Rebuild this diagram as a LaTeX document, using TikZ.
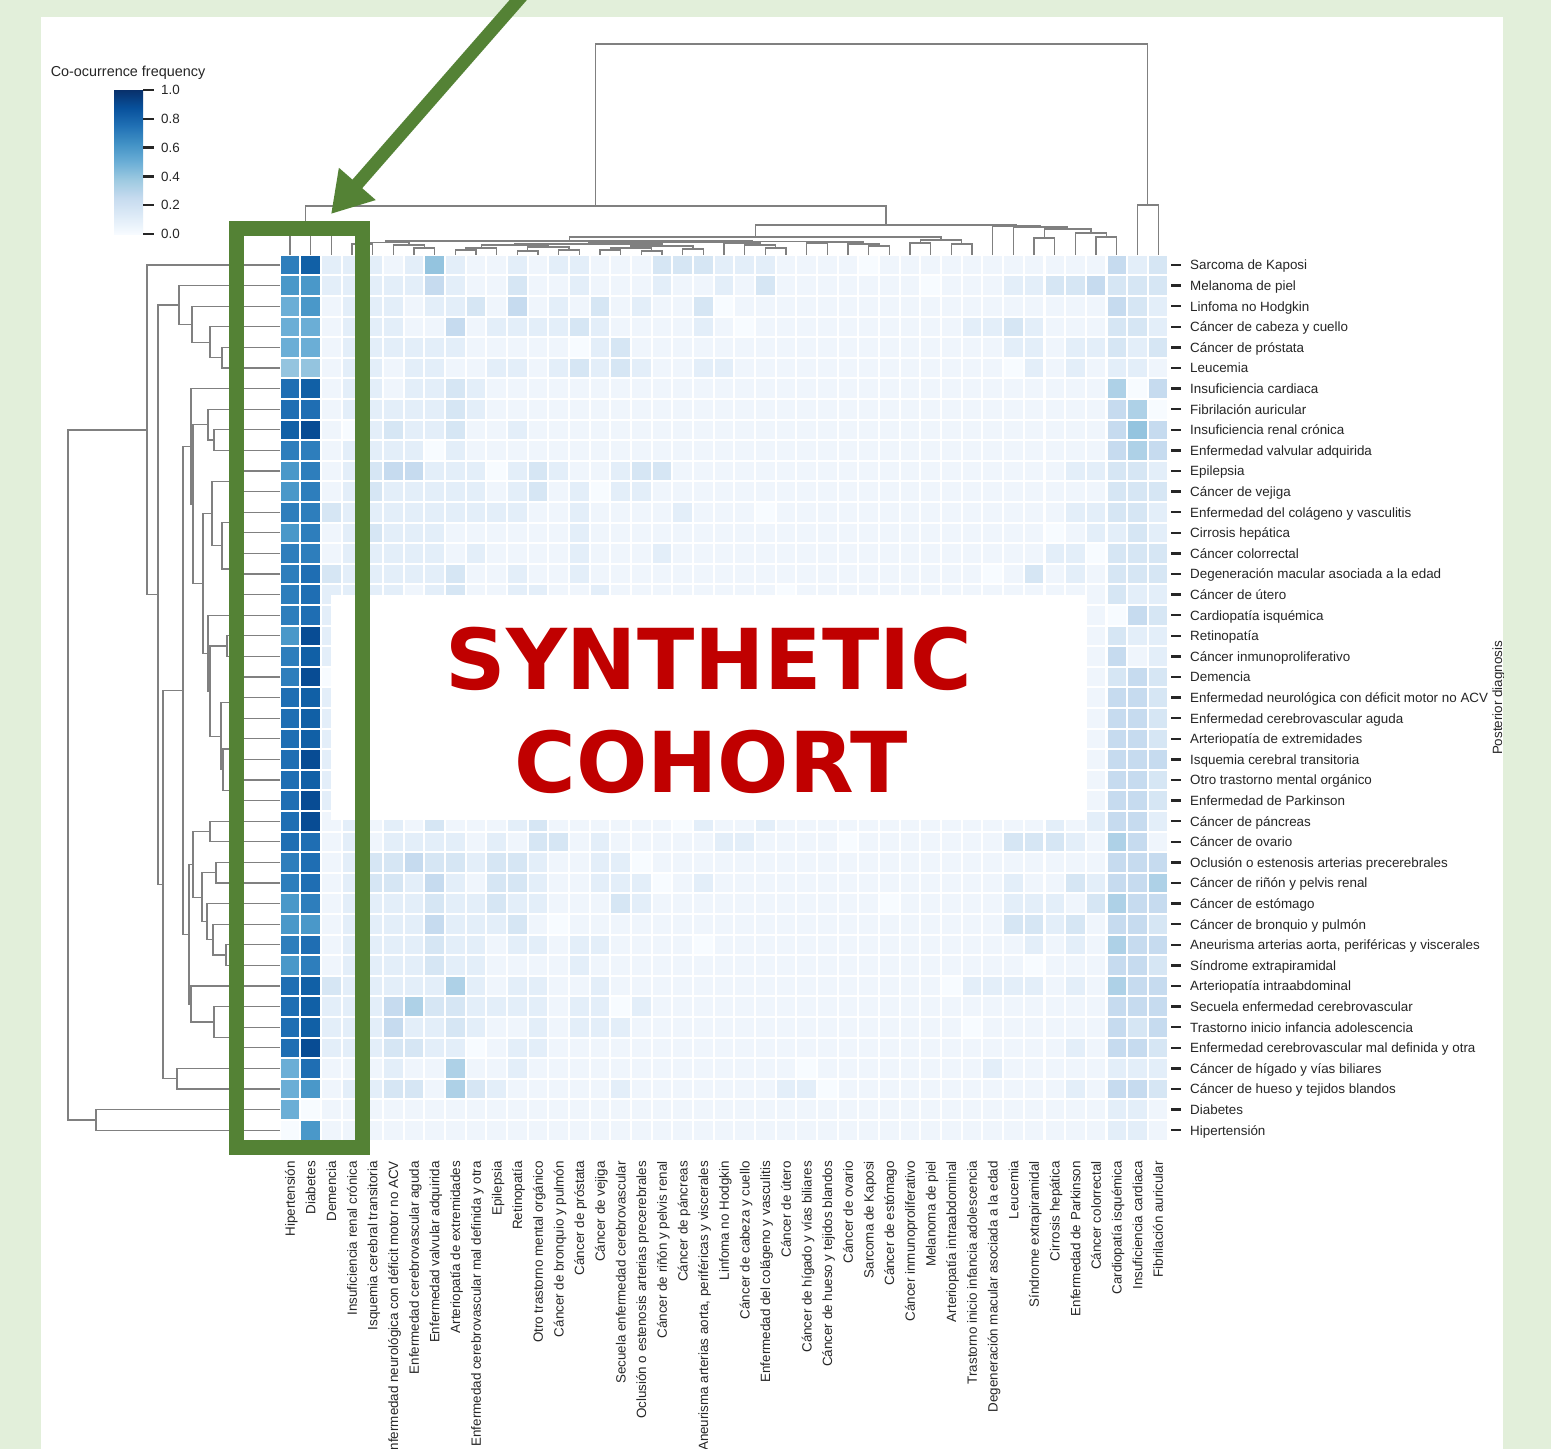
\documentclass[tikz,border=0pt]{standalone}
\usepackage{fontspec}
\setmainfont{Liberation Sans}
\newfontfamily\stampfont{DejaVu Sans}
\usetikzlibrary{arrows.meta}

\definecolor{panelgreen}{HTML}{E2EFDA}
\definecolor{markgreen}{HTML}{548235}
\definecolor{stampred}{HTML}{C00000}
\definecolor{labgray}{HTML}{262626}
\definecolor{dendgray}{HTML}{808080}
\definecolor{hm0}{HTML}{F7FBFF}
\definecolor{hm1}{HTML}{EFF5FC}
\definecolor{hm2}{HTML}{E3EEF9}
\definecolor{hm3}{HTML}{D6E6F4}
\definecolor{hm4}{HTML}{C6DBEF}
\definecolor{hm5}{HTML}{AED1E7}
\definecolor{hm6}{HTML}{94C4DF}
\definecolor{hm7}{HTML}{6BAED6}
\definecolor{hm8}{HTML}{4A98C9}
\definecolor{hm9}{HTML}{2E7EBC}
\definecolor{hmA}{HTML}{1F6EB3}
\definecolor{hmB}{HTML}{1160A6}
\definecolor{hmC}{HTML}{084C94}
\definecolor{bl0}{HTML}{F7FBFF}
\definecolor{bl1}{HTML}{DEEBF7}
\definecolor{bl2}{HTML}{C6DBEF}
\definecolor{bl3}{HTML}{9ECAE1}
\definecolor{bl4}{HTML}{6BAED6}
\definecolor{bl5}{HTML}{4292C6}
\definecolor{bl6}{HTML}{2171B5}
\definecolor{bl7}{HTML}{08519C}
\definecolor{bl8}{HTML}{08306B}
\pgfdeclareverticalshading{bluesbar}{100bp}{color(0bp)=(bl0); color(25bp)=(bl0); color(31.25bp)=(bl1); color(37.5bp)=(bl2); color(43.75bp)=(bl3); color(50bp)=(bl4); color(56.25bp)=(bl5); color(62.5bp)=(bl6); color(68.75bp)=(bl7); color(75bp)=(bl8); color(100bp)=(bl8)}

\newcommand\topjoin[4]{%
  \edef\dgax{\csname tx#2\endcsname}\edef\dgay{\csname th#2\endcsname}%
  \edef\dgbx{\csname tx#3\endcsname}\edef\dgby{\csname th#3\endcsname}%
  \draw[dendro] (\dgax,\dgay) |- (\dgbx,#4) -- (\dgbx,\dgby);%
  \pgfmathsetmacro\dgmx{(\dgax+\dgbx)/2}%
  \expandafter\xdef\csname tx#1\endcsname{\dgmx}%
  \expandafter\xdef\csname th#1\endcsname{#4}}
\newcommand\leftjoin[4]{%
  \edef\dgax{\csname lh#2\endcsname}\edef\dgay{\csname ly#2\endcsname}%
  \edef\dgbx{\csname lh#3\endcsname}\edef\dgby{\csname ly#3\endcsname}%
  \draw[dendro] (\dgax,\dgay) -| (#4,\dgby) -- (\dgbx,\dgby);%
  \pgfmathsetmacro\dgmx{(\dgay+\dgby)/2}%
  \expandafter\xdef\csname ly#1\endcsname{\dgmx}%
  \expandafter\xdef\csname lh#1\endcsname{#4}}

\begin{document}
\begin{tikzpicture}[x=1pt,y=-1pt,
    dendro/.style={draw=dendgray,line width=1.3pt},
    lab/.style={font=\fontsize{13.4}{15}\selectfont,text=labgray,inner sep=0pt},
    rtick/.style={draw=labgray,line width=2.4pt},
    stamp/.style={font=\stampfont\bfseries\fontsize{84}{84}\selectfont,text=stampred,inner sep=0pt}]
\useasboundingbox (0,0) rectangle (1551,1449);
\fill[panelgreen] (0,0) rectangle (1551,1449);
\fill[white] (41,17) rectangle (1503,1449);

\foreach \rowvals [count=\j from 0] in {
  {9,B,2,2,2,1,2,6,2,1,1,2,1,2,2,1,1,1,3,3,3,2,2,2,1,1,1,1,0,1,1,1,1,1,1,1,1,1,1,1,4,2,3},
  {8,8,2,2,2,2,2,4,2,1,1,3,1,1,2,1,1,1,2,1,1,2,1,3,1,1,1,1,1,1,1,0,1,1,1,2,2,3,3,4,3,3,3},
  {7,8,1,2,2,2,1,2,2,3,1,4,1,2,1,3,1,2,1,1,3,0,1,1,1,1,1,1,1,1,1,1,1,1,1,1,1,1,1,1,4,3,2},
  {7,7,1,2,2,2,1,1,4,1,2,2,2,2,3,2,1,1,1,1,2,1,0,1,1,1,1,1,1,1,1,1,1,2,2,3,2,1,1,1,3,3,2},
  {7,7,1,2,2,2,2,2,2,1,1,1,1,1,0,2,3,1,1,1,1,1,1,1,1,1,1,1,1,1,1,1,1,1,1,2,2,1,2,2,3,2,3},
  {6,6,1,2,2,1,2,2,1,1,2,2,1,2,3,2,3,2,1,1,2,2,1,1,1,1,1,1,1,1,1,1,1,1,1,0,2,1,2,1,2,2,1},
  {A,B,1,2,2,1,2,2,3,2,1,1,1,1,1,1,1,1,1,1,1,1,1,1,1,1,1,1,1,1,1,1,1,1,1,1,1,1,1,1,5,0,4},
  {A,A,1,2,2,2,2,2,3,2,1,1,1,1,1,1,1,1,1,1,1,1,1,1,1,1,1,1,1,1,1,1,1,1,1,1,1,1,1,1,4,5,0},
  {B,C,1,0,2,3,2,2,3,1,1,2,1,1,1,1,1,1,1,1,1,1,1,1,1,1,1,1,1,1,1,1,1,1,1,1,1,1,1,1,4,6,4},
  {9,9,1,2,2,2,2,0,2,1,1,1,1,1,1,1,1,1,1,1,1,1,1,1,1,1,1,1,1,1,1,1,1,1,1,1,1,1,1,1,4,5,4},
  {8,9,1,2,3,4,4,2,2,2,0,2,3,2,1,1,2,3,3,1,1,1,1,1,1,1,1,1,1,1,1,1,1,1,1,1,1,1,2,2,3,3,2},
  {8,9,1,2,3,2,2,2,2,2,1,2,3,1,2,0,2,2,1,1,1,1,1,1,1,1,1,1,1,1,1,1,1,1,1,1,1,1,1,1,3,3,3},
  {9,9,3,2,2,2,2,2,2,2,2,2,1,1,2,1,1,1,1,2,1,1,1,0,1,1,1,1,1,1,1,1,1,1,1,1,1,1,2,2,3,3,2},
  {8,9,1,2,3,2,2,2,1,1,1,1,1,1,2,1,1,1,1,1,1,1,1,1,1,1,1,1,1,1,1,1,1,1,1,1,1,0,1,2,2,3,2},
  {9,9,1,2,2,2,2,2,1,2,1,1,1,1,2,1,1,1,2,1,1,1,1,1,1,1,1,1,1,1,1,1,1,1,1,1,1,2,2,0,3,3,3},
  {9,A,3,2,2,2,2,2,3,1,1,2,1,1,2,1,1,1,1,1,1,1,1,1,1,1,1,1,1,1,1,1,1,1,0,1,3,1,2,1,3,3,3},
  {9,A,2,2,2,2,1,2,3,1,1,2,2,1,1,2,1,1,1,1,1,1,1,1,0,1,1,1,1,1,1,1,1,1,1,1,1,1,1,1,3,2,2},
  {9,A,2,1,1,1,1,1,1,1,1,1,1,1,1,1,1,1,1,1,1,1,1,1,1,1,1,1,1,1,1,1,1,1,1,1,1,1,1,1,0,4,3},
  {8,C,2,1,1,1,1,1,1,1,1,1,1,1,1,1,1,1,1,1,1,1,1,1,1,1,1,1,1,1,1,1,1,1,1,1,1,1,1,1,3,2,2},
  {9,B,2,1,1,1,1,1,1,1,1,1,1,1,1,1,1,1,1,1,1,1,1,1,1,1,1,1,1,1,1,1,1,1,1,1,1,1,1,1,4,1,2},
  {9,C,0,1,1,1,1,1,1,1,1,1,1,1,1,1,1,1,1,1,1,1,1,1,1,1,1,1,1,1,1,1,1,1,1,1,1,1,1,1,3,4,3},
  {A,B,2,1,1,0,1,1,1,1,1,1,1,1,1,1,1,1,1,1,1,1,1,1,1,1,1,1,1,1,1,1,1,1,1,1,1,1,1,1,4,4,3},
  {A,B,2,1,1,1,0,1,1,1,1,1,1,1,1,1,1,1,1,1,1,1,1,1,1,1,1,1,1,1,1,1,1,1,1,1,1,1,1,1,4,4,3},
  {A,B,2,1,1,1,1,1,0,1,1,1,1,1,1,1,1,1,1,1,1,1,1,1,1,1,1,1,1,1,1,1,1,1,1,1,1,1,1,1,4,4,3},
  {A,C,2,1,0,1,1,1,1,1,1,1,1,1,1,1,1,1,1,1,1,1,1,1,1,1,1,1,1,1,1,1,1,1,1,1,1,1,1,1,4,4,4},
  {A,B,2,1,1,1,1,1,1,1,1,1,0,1,1,1,1,1,1,1,1,1,1,1,1,1,1,1,1,1,1,1,1,1,1,1,1,1,1,1,4,4,3},
  {A,C,2,1,1,1,1,1,1,1,1,1,1,1,1,1,1,1,1,1,1,1,1,1,1,1,1,1,1,1,1,1,1,1,1,1,1,1,0,1,4,4,3},
  {A,C,1,2,1,2,1,3,1,1,1,2,3,1,1,1,1,1,1,0,2,1,1,2,1,1,1,1,1,1,1,1,1,1,1,1,1,2,1,2,4,4,2},
  {A,A,1,2,1,2,2,2,2,1,2,1,3,3,1,2,1,1,1,1,1,2,2,1,1,1,1,0,1,1,1,1,1,1,1,3,3,3,2,1,5,4,1},
  {9,A,1,2,3,3,4,3,3,2,3,3,2,1,1,2,2,0,1,1,1,1,1,1,1,1,1,1,1,1,1,1,1,1,1,1,1,1,1,1,4,4,4},
  {9,A,1,2,3,3,2,4,2,1,3,3,2,1,1,2,2,2,0,1,2,1,1,1,1,1,1,1,1,1,1,1,1,1,1,2,1,1,3,2,4,4,5},
  {8,9,1,2,2,2,2,3,2,2,3,2,2,1,1,1,3,2,1,1,1,1,1,1,1,1,1,1,1,0,1,1,1,1,1,2,2,2,1,3,5,4,4},
  {8,8,1,2,2,2,2,4,2,2,2,3,1,0,1,1,1,1,1,1,1,1,1,1,1,1,1,1,1,1,1,1,1,1,1,3,3,2,3,1,4,4,3},
  {9,A,1,2,2,2,2,3,2,2,1,2,2,1,2,2,1,1,1,1,0,1,1,1,1,1,1,1,1,1,1,1,1,1,1,1,2,1,2,1,5,4,4},
  {8,9,1,2,2,2,2,3,2,2,1,1,1,1,2,1,1,1,1,1,1,1,1,1,1,1,1,1,1,1,1,1,1,1,1,1,0,1,1,1,4,4,3},
  {A,B,3,2,2,2,2,2,5,2,1,2,2,1,1,2,1,1,1,1,1,1,1,1,1,1,1,1,1,1,1,1,0,2,2,2,2,1,2,1,5,4,4},
  {A,B,2,2,2,4,5,3,3,2,2,2,2,1,2,2,0,2,1,1,1,1,1,1,1,1,1,1,1,1,1,1,1,1,1,1,1,1,1,1,4,4,4},
  {A,B,2,2,2,4,2,2,3,2,1,1,2,1,2,2,2,1,1,1,1,1,1,1,1,1,1,1,1,1,1,1,1,0,1,1,1,1,1,1,4,3,4},
  {A,C,2,2,2,3,3,2,2,0,1,2,2,1,1,1,1,1,1,1,1,1,1,1,1,1,1,1,1,1,1,1,1,1,1,1,1,1,2,1,4,4,3},
  {7,A,1,1,1,2,1,1,5,1,1,2,1,1,1,1,1,1,1,1,1,1,1,1,1,0,1,1,1,1,1,1,1,1,2,1,1,1,1,1,2,2,2},
  {7,8,1,2,2,3,3,1,5,3,2,1,1,1,1,1,2,1,1,1,1,1,1,1,2,2,0,1,1,1,1,1,1,1,1,1,1,1,2,1,4,4,3},
  {7,0,1,1,1,1,1,1,1,1,1,1,1,1,1,1,1,1,1,1,1,1,1,1,1,1,1,1,1,1,1,1,1,1,1,1,1,1,1,1,2,2,1},
  {0,8,1,1,1,1,1,1,1,1,1,1,1,1,1,1,1,1,1,1,1,1,1,1,1,1,1,1,1,1,1,1,1,1,1,1,1,1,1,1,2,2,1}}{
  \foreach \v [count=\i from 0] in \rowvals{
    \fill[hm\v] ({290+20.67*\i-9.3},{265+20.6*\j-9.3}) rectangle +(18.6,18.6);
  }
}

\foreach \i in {0,...,42}{%
  \pgfmathsetmacro\dgmx{290+20.67*\i}%
  \expandafter\xdef\csname tx\i\endcsname{\dgmx}%
  \expandafter\xdef\csname th\i\endcsname{255}%
  \pgfmathsetmacro\dgmx{265+20.6*\i}%
  \expandafter\xdef\csname ly\i\endcsname{\dgmx}%
  \expandafter\xdef\csname lh\i\endcsname{280}}

\topjoin{aone}{1}{2}{231}
\topjoin{A}{0}{aone}{226}
\topjoin{ba}{36}{37}{238}
\topjoin{bb}{39}{40}{237}
\topjoin{bc}{38}{bb}{233}
\topjoin{bd}{ba}{bc}{229}
\topjoin{be}{35}{bd}{227}
\topjoin{Btwo}{34}{be}{226}
\topjoin{ca}{30}{31}{243}
\topjoin{cb}{32}{33}{244}
\topjoin{Bonb}{ca}{cb}{240}
\topjoin{xa}{3}{4}{244}
\topjoin{pa}{6}{7}{248}
\topjoin{pb}{5}{pa}{245}
\topjoin{X}{xa}{pb}{242.5}
\topjoin{qa}{8}{9}{250}
\topjoin{qb}{qa}{10}{248}
\topjoin{qc}{11}{12}{251}
\topjoin{qd}{13}{14}{250}
\topjoin{qe}{qc}{qd}{247}
\topjoin{qf}{qb}{qe}{245}
\topjoin{qg}{15}{16}{250}
\topjoin{qh}{17}{18}{251}
\topjoin{qi}{qg}{qh}{248}
\topjoin{qj}{19}{20}{249}
\topjoin{qk}{qi}{qj}{246}
\topjoin{Yone}{qf}{qk}{244}
\topjoin{sa}{23}{24}{248}
\topjoin{sb}{22}{sa}{245}
\topjoin{sc}{21}{sb}{243}
\topjoin{Yonep}{Yone}{sc}{242.5}
\topjoin{ra}{28}{29}{246}
\topjoin{rb}{27}{ra}{244}
\topjoin{rc}{25}{26}{243}
\topjoin{rd}{rc}{rb}{242}
\topjoin{Y}{Yonep}{rd}{241.5}
\topjoin{Bona}{X}{Y}{241}
\topjoin{Bone}{Bona}{Bonb}{237}
\topjoin{B}{Bone}{Btwo}{225}
\topjoin{L}{A}{B}{206}
\topjoin{Rt}{41}{42}{205}
\topjoin{root}{L}{Rt}{44}

\leftjoin{Rd}{4}{5}{222}
\leftjoin{Rc}{3}{Rd}{210}
\leftjoin{Rb}{2}{Rc}{192}
\leftjoin{Ra}{1}{Rb}{179}
\leftjoin{Atwo}{8}{9}{214}
\leftjoin{Aone}{7}{Atwo}{208}
\leftjoin{EV}{10}{11}{235}
\leftjoin{Ca}{12}{13}{236}
\leftjoin{Cb}{15}{16}{240}
\leftjoin{Cc}{14}{Cb}{230}
\leftjoin{Cd}{Ca}{Cc}{222}
\leftjoin{Bqone}{EV}{Cd}{212}
\leftjoin{RI}{18}{19}{227}
\leftjoin{Da}{20}{21}{240}
\leftjoin{Db}{Da}{22}{232}
\leftjoin{Dc}{23}{24}{238}
\leftjoin{Dd}{25}{26}{238}
\leftjoin{De}{Dc}{Dd}{223}
\leftjoin{Df}{Db}{De}{221}
\leftjoin{Dg}{RI}{Df}{210}
\leftjoin{Bqtwo}{17}{Dg}{208}
\leftjoin{Bq}{Bqone}{Bqtwo}{203}
\leftjoin{Qatwo}{Aone}{Bq}{193}
\leftjoin{Qa}{6}{Qatwo}{191}
\leftjoin{Ea}{33}{34}{226}
\leftjoin{Eb}{32}{Ea}{213}
\leftjoin{Ec}{31}{Eb}{207}
\leftjoin{Ed}{29}{30}{216}
\leftjoin{Ee}{Ed}{Ec}{202}
\leftjoin{Ef}{27}{28}{210}
\leftjoin{Qbone}{Ef}{Ee}{193}
\leftjoin{Fa}{37}{38}{236}
\leftjoin{Fb}{36}{Fa}{214}
\leftjoin{Qbtwo}{35}{Fb}{191}
\leftjoin{Qb}{Qbone}{Qbtwo}{189}
\leftjoin{Qone}{Qa}{Qb}{183}
\leftjoin{HH}{39}{40}{177}
\leftjoin{Q}{Qone}{HH}{163}
\leftjoin{Rest}{Ra}{Q}{158}
\leftjoin{Big}{0}{Rest}{147}
\leftjoin{DH}{41}{42}{96}
\leftjoin{root}{Big}{DH}{68}

\foreach \lab [count=\j from 0] in {Sarcoma de Kaposi, Melanoma de piel, Linfoma no Hodgkin,
    Cáncer de cabeza y cuello, Cáncer de próstata, Leucemia, Insuficiencia cardiaca,
    Fibrilación auricular, Insuficiencia renal crónica, Enfermedad valvular adquirida,
    Epilepsia, Cáncer de vejiga, Enfermedad del colágeno y vasculitis, Cirrosis hepática,
    Cáncer colorrectal, Degeneración macular asociada a la edad, Cáncer de útero,
    Cardiopatía isquémica, Retinopatía, Cáncer inmunoproliferativo, Demencia,
    Enfermedad neurológica con déficit motor no ACV, Enfermedad cerebrovascular aguda,
    Arteriopatía de extremidades, Isquemia cerebral transitoria, Otro trastorno mental orgánico,
    Enfermedad de Parkinson, Cáncer de páncreas, Cáncer de ovario,
    Oclusión o estenosis arterias precerebrales, Cáncer de riñón y pelvis renal,
    Cáncer de estómago, Cáncer de bronquio y pulmón,
    {Aneurisma arterias aorta, periféricas y viscerales}, Síndrome extrapiramidal,
    Arteriopatía intraabdominal, Secuela enfermedad cerebrovascular,
    Trastorno inicio infancia adolescencia, Enfermedad cerebrovascular mal definida y otra,
    Cáncer de hígado y vías biliares, Cáncer de hueso y tejidos blandos, Diabetes, Hipertensión}{
  \draw[rtick] (1171,{265+20.6*\j}) -- (1181,{265+20.6*\j});
  \node[lab,anchor=base west] (row\j) at (1190,{265+20.6*\j+4.8}) {\lab};
}

\foreach \lab [count=\i from 0] in {Hipertensión, Diabetes, Demencia, Insuficiencia renal crónica,
    Isquemia cerebral transitoria, Enfermedad neurológica con déficit motor no ACV,
    Enfermedad cerebrovascular aguda, Enfermedad valvular adquirida, Arteriopatía de extremidades,
    Enfermedad cerebrovascular mal definida y otra, Epilepsia, Retinopatía,
    Otro trastorno mental orgánico, Cáncer de bronquio y pulmón, Cáncer de próstata,
    Cáncer de vejiga, Secuela enfermedad cerebrovascular,
    Oclusión o estenosis arterias precerebrales, Cáncer de riñón y pelvis renal,
    Cáncer de páncreas, {Aneurisma arterias aorta, periféricas y viscerales},
    Linfoma no Hodgkin, Cáncer de cabeza y cuello, Enfermedad del colágeno y vasculitis,
    Cáncer de útero, Cáncer de hígado y vías biliares, Cáncer de hueso y tejidos blandos,
    Cáncer de ovario, Sarcoma de Kaposi, Cáncer de estómago, Cáncer inmunoproliferativo,
    Melanoma de piel, Arteriopatía intraabdominal, Trastorno inicio infancia adolescencia,
    Degeneración macular asociada a la edad, Leucemia, Síndrome extrapiramidal,
    Cirrosis hepática, Enfermedad de Parkinson, Cáncer colorrectal, Cardiopatía isquémica,
    Insuficiencia cardiaca, Fibrilación auricular}{
  \node[lab,rotate=90,anchor=base east] (col\i) at ({290+20.67*\i+4.8},1161) {\lab};
}

\begin{scope}
  \clip (41,17) rectangle (1503,1449);
  \node[lab,rotate=90,anchor=base] (ylab) at (1502,698) {Posterior diagnosis};
\end{scope}

\node[lab,font=\fontsize{14.4}{16}\selectfont] (cbtitle) at (128,73) {Co-ocurrence frequency};
\shade[shading=bluesbar] (114,90) rectangle (143,234);
\foreach \v [count=\k from 0] in {0.0,0.2,0.4,0.6,0.8,1.0}{
  \draw[rtick] (143,{234-144*\v}) -- (154,{234-144*\v});
  \node[lab,anchor=west] (cb\k) at (161,{234-144*\v}) {\v};
}

\fill[white] (331,595) rectangle (1087,820);
\node[stamp] (syn) at (709,658.5) {SYNTHETIC};
\node[stamp] (coh) at (711,761.5) {COHORT};

\draw[markgreen,line width=15pt] (236.5,228) rectangle (362.5,1147.5);
\draw[markgreen,line width=13pt,-{Triangle[width=46pt,length=40pt]}] (527,-10) -- (331,214);
\end{tikzpicture}
\end{document}
